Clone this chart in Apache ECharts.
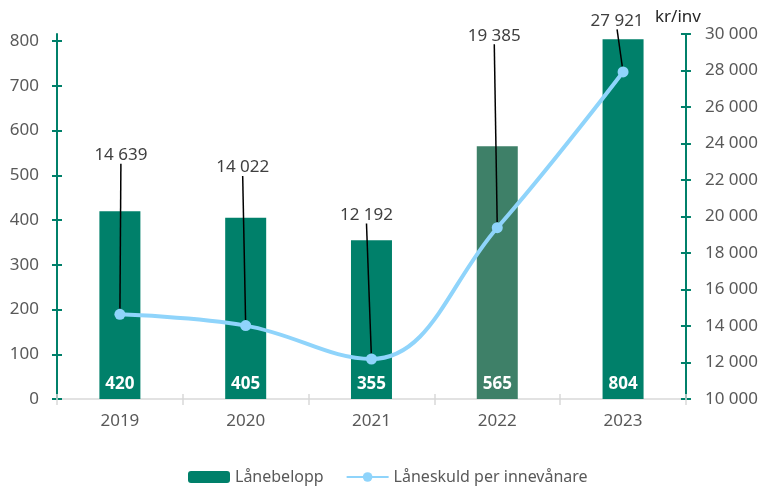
<!DOCTYPE html>
<html>
<head>
<meta charset="utf-8">
<script src="https://cdn.jsdelivr.net/npm/echarts@6/dist/echarts.min.js"></script>
<style>
  html, body { margin: 0; padding: 0; background: #fff; }
  #chart1 { width: 761px; height: 486px; }
</style>
</head>
<body>
<div id="chart1"></div>
<script>
const years = ['2019', '2020', '2021', '2022', '2023'];
const loanAmount = [420, 405, 355, 565, 804];
const debtPerCapita = [14639, 14022, 12192, 19385, 27921];
const leftTicks = [0, 100, 200, 300, 400, 500, 600, 700, 800];

// pixel lift of each value label above its point, and sideways nudge
const labelLift = [164, 163, 149, 197, 56];
const labelNudge = [1, -3, -5, -3, -6];

const teal = '#00806a';
const font = 'Noto Sans';

const fmt = v => String(v).replace(/\B(?=(\d{3})+(?!\d))/g, ' ');

const getOption = () => {
  return {
    animation: false,
    textStyle: { fontFamily: font },
    grid: { left: 57, right: 74, top: 34, bottom: 87 },
    legend: {
      left: 183,
      top: 464,
      itemWidth: 42,
      itemHeight: 12,
      itemGap: 22,
      textStyle: { fontSize: 16, color: '#595959', fontFamily: font },
      data: ['Lånebelopp', 'Låneskuld per innevånare']
    },
    xAxis: [{
      type: 'category',
      data: years,
      axisLine: { lineStyle: { color: '#d9d9d9', width: 1.5 } },
      axisTick: { show: true, length: 6, lineStyle: { color: '#d9d9d9', width: 1.5 } },
      axisLabel: { color: '#595959', fontSize: 17, margin: 14, fontFamily: font }
    }, {
      type: 'category',
      data: years,
      position: 'bottom',
      axisLine: { show: false },
      axisTick: { show: true, inside: true, length: 5, lineStyle: { color: '#d9d9d9', width: 1.5 } },
      axisLabel: { show: false }
    }],
    yAxis: [{
      type: 'value',
      position: 'left',
      min: 0,
      max: 816,
      axisLine: { show: true, lineStyle: { color: teal, width: 2 } },
      axisTick: { show: true, length: 5, customValues: leftTicks, lineStyle: { color: teal, width: 2 } },
      axisLabel: { customValues: leftTicks, color: '#595959', fontSize: 17, margin: 18, fontFamily: font },
      splitLine: { show: false }
    }, {
      type: 'value',
      position: 'right',
      min: 10000,
      max: 30000,
      interval: 2000,
      name: 'kr/inv',
      nameLocation: 'end',
      nameGap: 5,
      nameTextStyle: { color: '#262626', fontSize: 17, fontFamily: font, padding: [0, 16, 0, 0] },
      axisLine: { show: true, lineStyle: { color: teal, width: 2 } },
      axisTick: { show: true, length: 5, lineStyle: { color: teal, width: 2 } },
      axisLabel: { color: '#595959', fontSize: 17, margin: 19, fontFamily: font, formatter: fmt },
      splitLine: { show: false }
    }, {
      type: 'value',
      position: 'left',
      min: 0,
      max: 816,
      axisLine: { show: false },
      axisTick: { show: true, inside: true, length: 5, customValues: leftTicks, lineStyle: { color: teal, width: 2 } },
      axisLabel: { show: false },
      splitLine: { show: false }
    }, {
      type: 'value',
      position: 'right',
      min: 10000,
      max: 30000,
      interval: 2000,
      axisLine: { show: false },
      axisTick: { show: true, inside: true, length: 5, lineStyle: { color: teal, width: 2 } },
      axisLabel: { show: false },
      splitLine: { show: false }
    }],
    series: [{
      name: 'Lånebelopp',
      type: 'bar',
      xAxisIndex: 0,
      yAxisIndex: 0,
      barWidth: 41,
      itemStyle: { color: teal },
      data: loanAmount.map((v, i) => i === 3 ? { value: v, itemStyle: { color: '#3e8068' } } : v),
      label: {
        show: true,
        position: 'insideBottom',
        distance: 6,
        color: '#fff',
        fontWeight: 'bold',
        fontSize: 17,
        fontFamily: font
      }
    }, {
      name: 'Låneskuld per innevånare',
      type: 'line',
      xAxisIndex: 0,
      yAxisIndex: 1,
      smooth: 0.4,
      symbol: 'circle',
      symbolSize: 11,
      z: 5,
      data: debtPerCapita,
      lineStyle: { color: '#8fd4fb', width: 4 },
      itemStyle: { color: '#8fd4fb' },
      label: {
        show: true,
        position: 'top',
        color: '#404040',
        fontSize: 17,
        fontFamily: font,
        padding: [0, 0, 10, 0],
        formatter: p => fmt(p.value)
      },
      labelLine: { show: true, lineStyle: { color: '#000', width: 1.5 } },
      labelLayout: p => {
        const cy = p.rect.y + p.rect.height / 2;
        const cx = p.rect.x + p.rect.width / 2;
        const ly = p.labelRect.y + (p.labelRect.height - 10) / 2;
        const lx = p.labelRect.x + p.labelRect.width / 2;
        return {
          dx: cx + labelNudge[p.dataIndex] - lx,
          dy: cy - labelLift[p.dataIndex] - ly
        };
      }
    }]
  };
};

const initChart = () => {
  const chart1 = echarts.init(document.getElementById('chart1'));
  chart1.setOption(getOption());
};

window.addEventListener('load', initChart);
</script>
</body>
</html>
